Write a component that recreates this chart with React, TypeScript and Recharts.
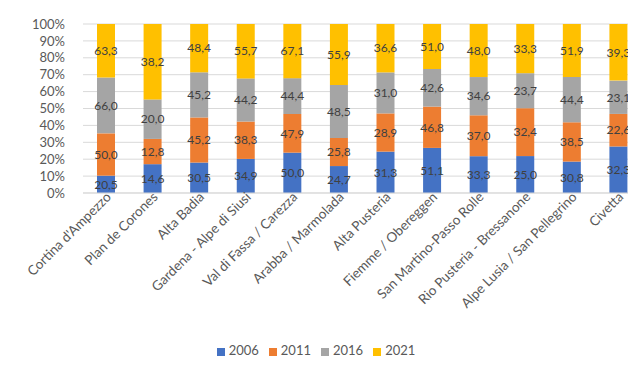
import React from "react";
import { BarChart, Bar, XAxis, YAxis, CartesianGrid, Legend, LabelList } from "recharts";

const categories = [
  "Cortina d'Ampezzo",
  "Plan de Corones",
  "Alta Badia",
  "Gardena - Alpe di Siusi",
  "Val di Fassa / Carezza",
  "Arabba / Marmolada",
  "Alta Pusteria",
  "Fiemme / Obereggen",
  "San Martino-Passo Rolle",
  "Rio Pusteria - Bressanone",
  "Alpe Lusia / San Pellegrino",
  "Civetta",
];
const v2006 = [20.5, 14.6, 30.5, 34.9, 50.0, 24.7, 31.3, 51.1, 33.3, 25.0, 30.8, 32.3];
const v2011 = [50.0, 12.8, 45.2, 38.3, 47.9, 25.8, 28.9, 46.8, 37.0, 32.4, 38.5, 22.6];
const v2016 = [66.0, 20.0, 45.2, 44.2, 44.4, 48.5, 31.0, 42.6, 34.6, 23.7, 44.4, 23.1];
const v2021 = [63.3, 38.2, 48.4, 55.7, 67.1, 55.9, 36.6, 51.0, 48.0, 33.3, 51.9, 39.3];
const yTicks = [0, 0.1, 0.2, 0.3, 0.4, 0.5, 0.6, 0.7, 0.8, 0.9, 1];

const data = categories.map((name, i) => ({
  name,
  y2006: v2006[i],
  y2011: v2011[i],
  y2016: v2016[i],
  y2021: v2021[i],
}));

const FONT = "Lato, 'Open Sans', sans-serif";
const fmt = (v: any) => Number(v).toFixed(1).replace(".", ",");

const XTick = (props: any) => {
  const { x, y, payload } = props;
  return (
    <g transform={`translate(${x},${y})`}>
      <text
        x={0}
        y={0}
        dx={2}
        dy={6}
        textAnchor="end"
        transform="rotate(-45)"
        fill="#595959"
        fontSize={13.5}
        fontFamily={FONT}
      >
        {payload.value}
      </text>
    </g>
  );
};

export default function App() {
  return (
    <div style={{ width: 636, height: 383, overflow: "hidden", margin: -8, background: "#fff" }}>
      <BarChart
        width={652}
        height={383}
        data={data}
        stackOffset="expand"
        margin={{ top: 24, right: 10, bottom: 25, left: 0 }}
        style={{ fontFamily: FONT }}
      >
        <CartesianGrid vertical={false} stroke="#D9D9D9" />
        <XAxis
          dataKey="name"
          interval={0}
          tick={<XTick />}
          tickLine={false}
          axisLine={{ stroke: "#D9D9D9" }}
          height={149}
          tickSize={0}
        />
        <YAxis
          domain={[0, 1]}
          ticks={yTicks}
          interval={0}
          tickFormatter={(v: number) => `${Math.round(v * 100)}%`}
          tick={{ fill: "#595959", fontSize: 13, fontFamily: FONT }}
          axisLine={false}
          tickLine={false}
          tickSize={0}
          tickMargin={18}
          width={83}
        />
        <Legend
          verticalAlign="bottom"
          align="center"
          iconType="square"
          iconSize={8}
          wrapperStyle={{ fontSize: 13, fontFamily: FONT, color: "#595959", paddingLeft: 0 }}
          formatter={(v: string) => <span style={{ color: "#595959" }}>{v}</span>}
        />
        <Bar dataKey="y2006" name="2006" stackId="a" fill="#4472C4" barSize={18} isAnimationActive={false}>
          <LabelList dataKey="y2006" position="center" formatter={fmt} fill="#404040" fontSize={12} fontFamily={FONT} />
        </Bar>
        <Bar dataKey="y2011" name="2011" stackId="a" fill="#ED7D31" barSize={18} isAnimationActive={false}>
          <LabelList dataKey="y2011" position="center" formatter={fmt} fill="#404040" fontSize={12} fontFamily={FONT} />
        </Bar>
        <Bar dataKey="y2016" name="2016" stackId="a" fill="#A5A5A5" barSize={18} isAnimationActive={false}>
          <LabelList dataKey="y2016" position="center" formatter={fmt} fill="#404040" fontSize={12} fontFamily={FONT} />
        </Bar>
        <Bar dataKey="y2021" name="2021" stackId="a" fill="#FFC000" barSize={18} isAnimationActive={false}>
          <LabelList dataKey="y2021" position="center" formatter={fmt} fill="#404040" fontSize={12} fontFamily={FONT} />
        </Bar>
      </BarChart>
    </div>
  );
}
